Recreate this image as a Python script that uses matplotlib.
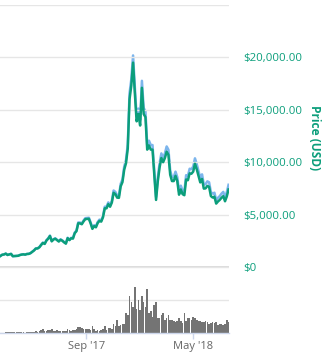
import datetime as dt
import matplotlib
matplotlib.use("Agg")
import matplotlib.pyplot as plt
import matplotlib.dates as mdates

# Bitcoin, sampled every 4 days from 2017-02-19
start_date = dt.date(2017, 2, 19)
step_days = 4

price_usd = [
    1055, 1170, 1195, 1275, 1150, 1195, 1250, 1030, 1040, 1045,
    1070, 1140, 1185, 1205, 1180, 1240, 1250, 1320, 1450, 1580,
    1760, 1770, 1880, 2100, 2300, 2200, 2520, 2700, 2960, 2450,
    2620, 2700, 2560, 2430, 2600, 2500, 2350, 2230, 2750, 2560,
    2740, 2710, 3220, 3420, 4170, 4160, 4080, 4350, 4570, 4580,
    4600, 4160, 3640, 3900, 3790, 4200, 4400, 4330, 4750, 5600,
    5600, 6000, 5750, 6150, 7080, 6950, 6620, 6600, 7700, 8100,
    9300, 9900, 11300, 16000, 17300, 19500, 16600, 13900, 14600, 13500,
    17100, 14600, 14300, 11200, 11600, 11200, 11200, 8800, 6400, 8200,
    9500, 10400, 10000, 10400, 11000, 10700, 8800, 8200, 8200, 8700,
    8200, 6900, 7400, 6950, 6850, 8350, 8280, 8940, 8900, 9100,
    9850, 9330, 8700, 8070, 8400, 7480, 7500, 7740, 7650, 6770,
    6630, 6710, 6050, 6250, 6400, 6600, 6760, 6270, 6730, 7400,
]

# 24h volume, billions of USD
volume_busd = [
    0.12, 0.20, 0.20, 0.30, 0.35, 0.25, 0.30, 0.60, 0.40, 0.30,
    0.35, 0.45, 0.30, 0.40, 0.20, 0.40, 0.40, 0.50, 0.60, 0.50,
    0.90, 0.60, 0.90, 1.20, 1.70, 1.10, 1.00, 1.30, 1.30, 2.00,
    1.00, 1.00, 1.40, 0.90, 1.00, 0.70, 1.00, 1.00, 2.00, 1.30,
    1.00, 1.50, 1.20, 1.60, 2.70, 2.90, 2.20, 1.60, 1.90, 2.00,
    1.70, 1.50, 3.00, 1.90, 1.00, 1.20, 1.00, 1.50, 2.00, 3.20,
    1.50, 2.40, 2.50, 2.00, 4.00, 3.10, 6.00, 3.20, 3.70, 4.00,
    4.00, 9.00, 8.00, 17.0, 14.0, 12.0, 21.0, 11.0, 15.0, 10.3,
    17.0, 14.0, 12.0, 20.0, 9.00, 10.0, 7.50, 12.7, 13.9, 7.00,
    7.00, 8.00, 9.00, 6.00, 7.00, 8.00, 6.00, 6.00, 5.50, 5.00,
    5.50, 6.60, 5.50, 4.50, 9.00, 5.40, 7.00, 6.70, 6.00, 7.50,
    7.00, 6.00, 5.50, 5.60, 5.20, 5.00, 5.50, 5.00, 4.00, 4.50,
    4.90, 4.50, 4.80, 3.70, 4.00, 4.20, 3.80, 4.00, 5.80, 5.00,
]

# circulating supply (millions of BTC) by calendar month, Feb 2017 .. Jul 2018
supply_months = [
    "2017-02", "2017-03", "2017-04", "2017-05", "2017-06", "2017-07",
    "2017-08", "2017-09", "2017-10", "2017-11", "2017-12", "2018-01",
    "2018-02", "2018-03", "2018-04", "2018-05", "2018-06", "2018-07",
]
supply_mbtc = [
    16.17, 16.22, 16.27, 16.32, 16.38, 16.43,
    16.49, 16.55, 16.61, 16.67, 16.74, 16.80,
    16.85, 16.91, 16.96, 17.02, 17.08, 17.14,
]

price_ticks = [0, 5000, 10000, 15000, 20000, 25000]
price_tick_labels = ["$0", "$5,000.00", "$10,000.00", "$15,000.00", "$20,000.00", ""]
date_ticks = [dt.date(2017, 9, 1), dt.date(2018, 5, 1)]
date_tick_labels = ["Sep '17", "May '18"]

dates = [start_date + dt.timedelta(days=step_days * i) for i in range(len(price_usd))]
supply_lookup = dict(zip(supply_months, supply_mbtc))
market_cap_b = [p * supply_lookup[d.strftime("%Y-%m")] / 1000.0
                for p, d in zip(price_usd, dates)]

GREEN = "#0b9e7b"
BLUE = "#7cb5ec"
GRID = "#e6e6e6"

plt.rcParams["font.family"] = ["Open Sans", "DejaVu Sans"]

W, H = 324, 356
fig = plt.figure(figsize=(W / 100, H / 100), dpi=100)
fig.patch.set_facecolor("white")

x_left = mdates.date2num(dt.date(2017, 2, 18))
x_right = mdates.date2num(dt.date(2018, 7, 21))

def frac_y(py):
    return 1 - py / H

plot_w = 229 / W
ax = fig.add_axes([0, frac_y(267), plot_w, frac_y(5) - frac_y(267)])
axv = fig.add_axes([0, frac_y(333), plot_w, frac_y(267) - frac_y(333)])

xs = mdates.date2num(dates)

# market cap on a hidden axis, scaled to the price axis at the first supply value
axm = ax.twinx()
cap_top = 25000 * supply_mbtc[0] / 1000.0
axm.plot(xs, market_cap_b, color=BLUE, lw=1.8, solid_joinstyle="round", zorder=2)
axm.set_ylim(0, cap_top)
axm.set_xlim(x_left, x_right)
axm.axis("off")

ax.plot(xs, price_usd, color=GREEN, lw=1.8, solid_joinstyle="round", zorder=3)
ax.set_zorder(axm.get_zorder() + 1)
ax.patch.set_visible(False)
ax.set_xlim(x_left, x_right)
ax.set_ylim(0, 25000)
ax.set_yticks(price_ticks)
ax.set_yticklabels(price_tick_labels)
ax.yaxis.tick_right()
ax.tick_params(axis="y", length=0, pad=10, labelsize=8.2, labelcolor=GREEN)
ax.tick_params(axis="x", length=0, labelbottom=False)
for lbl in ax.get_yticklabels():
    lbl.set_horizontalalignment("left")
ax.grid(axis="y", color=GRID, lw=1.0)
for s in ax.spines.values():
    s.set_visible(False)
ax.set_xticks([])
ax.axhline(0, color="#d8d8d8", lw=2.0, zorder=1)

fig.text(0.972, frac_y(138), "Price (USD)", rotation=270, color=GREEN,
         fontsize=8.6, fontweight="bold", ha="center", va="center")

# volume pane
axv.bar(xs, volume_busd, width=step_days * 0.9, color="#747474", align="center",
        linewidth=0, zorder=2)
axv.set_xlim(x_left, x_right)
axv.set_ylim(0, 30)
axv.set_yticks([0, 15, 30])
axv.grid(axis="y", color=GRID, lw=1.0, zorder=0)
axv.tick_params(axis="y", length=0, labelleft=False, labelright=False)
for s in ("top", "left", "right"):
    axv.spines[s].set_visible(False)
axv.spines["bottom"].set_color("#ccd6eb")
axv.spines["bottom"].set_linewidth(1.0)
axv.set_xticks(mdates.date2num(date_ticks))
axv.set_xticklabels(date_tick_labels)
axv.tick_params(axis="x", length=4, width=1, color="#ccd6eb", labelsize=8,
                labelcolor="#666666", pad=2)

fig.savefig("out.png", dpi=100, facecolor="white")
